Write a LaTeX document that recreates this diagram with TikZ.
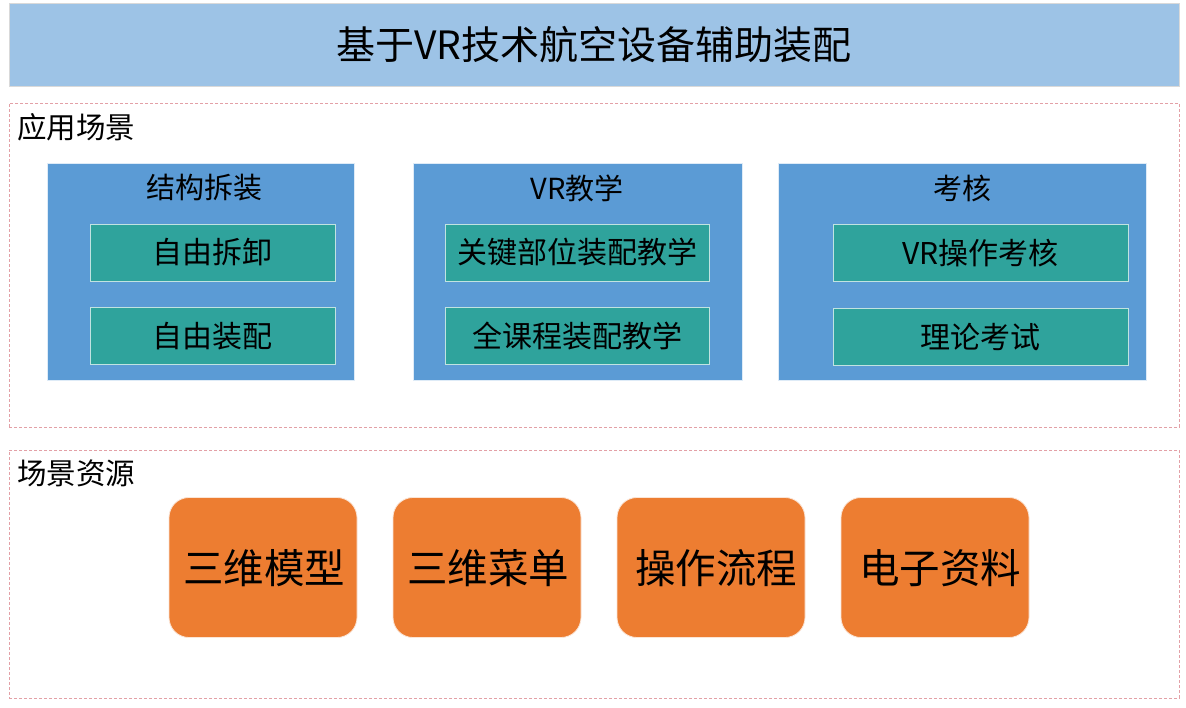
\documentclass[tikz,border=0pt]{standalone}
\usepackage{fontspec}
\setmainfont{Noto Sans CJK SC}
\begin{document}
\begin{tikzpicture}[x=1pt,y=-1pt,
  titlebox/.style={draw=white!85!black, line width=0.8pt, fill=titleblue, minimum width=1170pt, minimum height=83pt, inner sep=0pt, font=\fontsize{39}{44}\selectfont},
  section/.style={draw=dashred, dash pattern=on 3pt off 2pt, line width=0.8pt, minimum width=1170pt, inner sep=0pt},
  seclabel/.style={anchor=west, inner sep=0pt, font=\fontsize{29.5}{32}\selectfont},
  groupbox/.style={fill=groupblue, draw=white!80!groupblue, line width=0.8pt, minimum height=217pt, inner sep=0pt},
  grouptitle/.style={inner sep=0pt, font=\fontsize{29}{32}\selectfont},
  itembox/.style={fill=itemteal, draw=white!70!itemteal, line width=1pt, inner sep=0pt, minimum height=57pt, font=\fontsize{30}{33}\selectfont},
  resbox/.style={fill=resorange, draw=white!80!resorange, line width=0.8pt, rounded corners=20pt, minimum width=188pt, minimum height=140pt, inner sep=0pt},
  restext/.style={inner sep=0pt, font=\fontsize{40.5}{44}\selectfont}
]
\definecolor{titleblue}{HTML}{9DC3E6}
\definecolor{dashred}{HTML}{E3A0A6}
\definecolor{groupblue}{HTML}{5B9BD5}
\definecolor{itemteal}{HTML}{2FA39C}
\definecolor{resorange}{HTML}{ED7D31}
\useasboundingbox[fill=white] (0,0) rectangle (1186,707);

\node[titlebox] (title) at (594,44.5) {基于VR技术航空设备辅助装配};

\node[section, minimum height=324pt] (sec1) at (594,265) {};
\node[seclabel] (lab1) at (17,127) {应用场景};
\node[section, minimum height=248pt] (sec2) at (594,574) {};
\node[seclabel] (lab2) at (17,473) {场景资源};

\node[groupbox, minimum width=307pt] (g1) at (200.5,271.5) {};
\node[groupbox, minimum width=329pt] (g2) at (577.5,271.5) {};
\node[groupbox, minimum width=368pt] (g3) at (962,271.5) {};
\node[grouptitle] (g1t) at (204,188) {结构拆装};
\node[grouptitle] (g2t) at (577,188) {VR教学};
\node[grouptitle] (g3t) at (962,188) {考核};

\node[itembox, minimum width=245pt] (i11) at (212.5,252.5) {自由拆卸};
\node[itembox, minimum width=245pt] (i12) at (212.5,336) {自由装配};
\node[itembox, minimum width=264pt] (i21) at (577,252.5) {关键部位装配教学};
\node[itembox, minimum width=264pt] (i22) at (577,336) {全课程装配教学};
\node[itembox, minimum width=295pt] (i31) at (980.5,253) {VR操作考核};
\node[itembox, minimum width=295pt] (i32) at (980.5,337) {理论考试};

\node[resbox] (r1) at (263,567.5) {};
\node[resbox] (r2) at (487,567.5) {};
\node[resbox] (r3) at (711,567.5) {};
\node[resbox] (r4) at (935,567.5) {};
\node[restext] (r1t) at (264,568) {三维模型};
\node[restext] (r2t) at (488,568) {三维菜单};
\node[restext] (r3t) at (716,568) {操作流程};
\node[restext] (r4t) at (940,568) {电子资料};
\end{tikzpicture}
\end{document}
